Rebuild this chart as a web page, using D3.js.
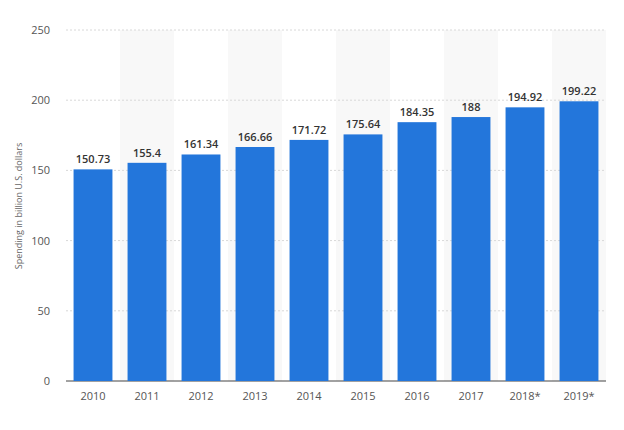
<!DOCTYPE html><html><head><meta charset="utf-8"><script src="https://cdn.jsdelivr.net/npm/d3@7"></script>
<style>body{margin:0;background:#fff}text{font-family:"Open Sans",sans-serif}</style></head><body><svg width="624" height="430"></svg><script>
const years=["2010","2011","2012","2013","2014","2015","2016","2017","2018*","2019*"];
const values=[150.73,155.4,161.34,166.66,171.72,175.64,184.35,188,194.92,199.22];
const labels=["150.73","155.4","161.34","166.66","171.72","175.64","184.35","188","194.92","199.22"];
const ticks=[0,50,100,150,200,250];
const svg=d3.select("svg");
const x=d3.scaleBand().domain(years).range([66,606]).paddingInner(0.28).paddingOuter(0.14);
const xb=d3.scaleBand().domain(years).range([66,606]);
const y=d3.scaleLinear().domain([0,250]).range([381,30]);
svg.selectAll("rect.bg").data(years.filter((d,i)=>i%2==1)).join("rect").attr("x",d=>xb(d)).attr("width",xb.bandwidth()).attr("y",30).attr("height",351).attr("fill","#f8f8f8");
svg.selectAll("line.g").data(ticks).join("line").attr("x1",66).attr("x2",606).attr("y1",d=>y(d)).attr("y2",d=>y(d)).attr("stroke",d=>d==0?"#444":"#d8d8d8").attr("stroke-dasharray",d=>d==0?null:"2,2");
svg.selectAll("text.yt").data(ticks).join("text").attr("x",50).attr("y",d=>y(d)+4).attr("text-anchor","end").attr("font-size",11).attr("fill","#555").text(d=>d);
svg.selectAll("rect.b").data(values).join("rect").attr("x",(d,i)=>x(years[i])).attr("width",x.bandwidth()).attr("y",d=>y(d)).attr("height",d=>381-y(d)).attr("fill","#2376db");
svg.selectAll("text.v").data(values).join("text").attr("x",(d,i)=>x(years[i])+x.bandwidth()/2).attr("y",d=>y(d)-6).attr("text-anchor","middle").attr("font-size",11).attr("font-weight",600).attr("fill","#333").text((d,i)=>labels[i]);
svg.selectAll("text.xt").data(years).join("text").attr("x",d=>xb(d)+xb.bandwidth()/2).attr("y",400).attr("text-anchor","middle").attr("font-size",11).attr("fill","#555").text(d=>d);
svg.append("text").attr("transform","translate(22,206) rotate(-90)").attr("text-anchor","middle").attr("font-size",9).attr("fill","#666").text("Spending in billion U.S. dollars");
</script></body></html>
